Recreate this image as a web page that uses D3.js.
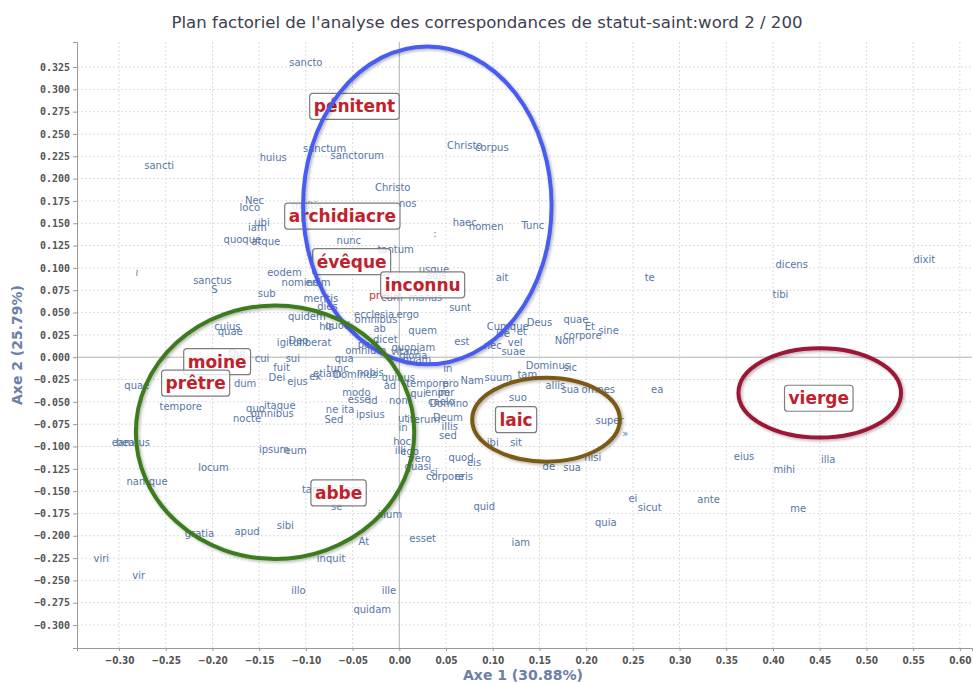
<!DOCTYPE html>
<html>
<head>
<meta charset="utf-8">
<script src="https://cdn.jsdelivr.net/npm/d3@7/dist/d3.min.js"></script>
<style>
  body { margin: 0; background: #fff; }
  text { font-family: "DejaVu Sans", sans-serif; }
</style>
</head>
<body>
<svg></svg>
<script>
var width = 974,
    height = 683;

// tick values of both axes
var xTickValues = [-0.30, -0.25, -0.20, -0.15, -0.10, -0.05, 0.00, 0.05, 0.10, 0.15,
                   0.20, 0.25, 0.30, 0.35, 0.40, 0.45, 0.50, 0.55, 0.60];
var yTickValues = [-0.300, -0.275, -0.250, -0.225, -0.200, -0.175, -0.150, -0.125, -0.100,
                   -0.075, -0.050, -0.025, 0.000, 0.025, 0.050, 0.075, 0.100, 0.125,
                   0.150, 0.175, 0.200, 0.225, 0.250, 0.275, 0.300, 0.325];

// row points (words): label, axe 1, axe 2
var rowPoints = [
  ["sancto", -0.100, 0.330], ["sancti", -0.257, 0.215], ["huius", -0.135, 0.224],
  ["sanctum", -0.080, 0.234], ["sanctorum", -0.045, 0.226], ["Christo", 0.070, 0.237],
  ["corpus", 0.099, 0.235], ["Christo", -0.007, 0.190], ["nos", 0.009, 0.172],
  ["Nec", -0.155, 0.176], ["loco", -0.160, 0.168], ["multis", -0.099, 0.170],
  ["ubi", -0.147, 0.151], ["iam", -0.152, 0.145], ["quoque", -0.168, 0.132],
  ["atque", -0.143, 0.130], ["nunc", -0.054, 0.131], ["haec", 0.070, 0.151],
  ["nomen", 0.093, 0.146], ["Tunc", 0.143, 0.148], ["tantum", -0.004, 0.121],
  [":", 0.038, 0.139], ["usque", 0.037, 0.098], ["suis", 0.040, 0.092],
  ["ait", 0.110, 0.089], ["te", 0.268, 0.089], ["dicens", 0.420, 0.104],
  ["dixit", 0.562, 0.109], ["tibi", 0.408, 0.070], ["≀", -0.281, 0.095],
  ["sanctus", -0.200, 0.086], ["S", -0.198, 0.076], ["eodem", -0.123, 0.095],
  ["nomine", -0.106, 0.084], ["enim", -0.087, 0.084], ["sub", -0.142, 0.071],
  ["meritis", -0.084, 0.066], ["dies", -0.077, 0.057], ["cum", -0.008, 0.067],
  ["manus", 0.028, 0.067], ["sunt", 0.065, 0.056], ["quidem", -0.099, 0.046],
  ["quod", -0.066, 0.036], ["his", -0.078, 0.034], ["ecclesia", -0.027, 0.048],
  ["ergo", 0.009, 0.048], ["omnibus", -0.025, 0.042], ["cuius", -0.184, 0.034],
  ["quae", -0.181, 0.029], ["ab", -0.021, 0.032], ["quem", 0.025, 0.030],
  ["est", 0.067, 0.018], ["Cumque", 0.116, 0.034], ["De", 0.111, 0.027],
  ["et", 0.131, 0.029], ["Deus", 0.150, 0.039], ["quae", 0.189, 0.042],
  ["Et", 0.204, 0.034], ["sine", 0.224, 0.030], ["corpore", 0.196, 0.024],
  ["Non", 0.177, 0.019], ["nec", 0.100, 0.013], ["vel", 0.124, 0.016],
  ["suae", 0.122, 0.006], ["igitur", -0.117, 0.017], ["Deo", -0.108, 0.019],
  ["liberat", -0.090, 0.016], ["dicet", -0.015, 0.020], ["post", -0.033, 0.014],
  ["quoniam", 0.015, 0.011], ["omnium", -0.036, 0.008], ["vitam", 0.006, 0.006],
  ["gloria", 0.015, 0.002], ["quam", 0.019, -0.003], ["qua", -0.059, -0.001],
  ["Qui", -0.174, 0.004], ["cui", -0.147, -0.001], ["sui", -0.114, -0.001],
  ["fuit", -0.126, -0.011], ["Dei", -0.131, -0.023], ["ejus", -0.109, -0.027],
  ["ex", -0.090, -0.022], ["etiam", -0.077, -0.018], ["tunc", -0.066, -0.013],
  ["Dominus", -0.047, -0.019], ["nobis", -0.031, -0.017], ["quibus", -0.001, -0.023],
  ["ad", -0.010, -0.032], ["tempore", 0.030, -0.029], ["pro", 0.055, -0.029],
  ["in", 0.052, -0.013], ["Nam", 0.078, -0.026], ["suum", 0.106, -0.023],
  ["tam", 0.137, -0.019], ["Dominus", 0.159, -0.009], ["sic", 0.183, -0.012],
  ["aliis", 0.167, -0.032], ["sua", 0.183, -0.036], ["omnes", 0.213, -0.036],
  ["ea", 0.276, -0.036], ["dum", -0.165, -0.030], ["quae", -0.281, -0.032],
  ["tempore", -0.234, -0.055], ["itaque", -0.128, -0.054], ["quo", -0.154, -0.058],
  ["omnibus", -0.136, -0.063], ["nocte", -0.163, -0.069], ["modo", -0.046, -0.040],
  ["esse", -0.043, -0.047], ["id", -0.028, -0.048], ["ita", -0.055, -0.059],
  ["ne", -0.072, -0.059], ["Sed", -0.070, -0.070], ["ipsius", -0.031, -0.064],
  ["non", -0.001, -0.049], ["qui", 0.020, -0.041], ["enim", 0.041, -0.040],
  ["per", 0.050, -0.039], ["Domino", 0.053, -0.052], ["caelo", 0.045, -0.050],
  ["ut", 0.004, -0.069], ["in", 0.004, -0.079], ["iterum", 0.026, -0.070],
  ["Deum", 0.052, -0.067], ["illis", 0.054, -0.078], ["sed", 0.052, -0.088],
  ["suo", 0.127, -0.045], ["super", 0.225, -0.071], ["»", 0.242, -0.086],
  ["ibi", 0.100, -0.096], ["sit", 0.125, -0.095], ["hoc", 0.003, -0.094],
  ["illi", 0.001, -0.105], ["ego", 0.011, -0.106], ["vero", 0.022, -0.114],
  ["quasi", 0.020, -0.122], ["quod", 0.066, -0.112], ["eis", 0.080, -0.118],
  ["si", 0.037, -0.129], ["corpore", 0.049, -0.134], ["eris", 0.069, -0.134],
  ["de", 0.160, -0.122], ["sua", 0.185, -0.124], ["nisi", 0.207, -0.112],
  ["eius", 0.369, -0.111], ["mihi", 0.412, -0.126], ["illa", 0.459, -0.115],
  ["ei", 0.250, -0.158], ["sicut", 0.268, -0.168], ["ante", 0.331, -0.159],
  ["me", 0.427, -0.169], ["quia", 0.221, -0.185], ["quid", 0.091, -0.167],
  ["esset", 0.025, -0.203], ["iam", 0.130, -0.208], ["beatus", -0.285, -0.095],
  ["eam", -0.296, -0.095], ["locum", -0.199, -0.124], ["ipsum", -0.134, -0.103],
  ["eum", -0.111, -0.104], ["namque", -0.270, -0.139], ["tamen", -0.087, -0.148],
  ["ipse", -0.051, -0.148], ["se", -0.067, -0.167], ["illum", -0.010, -0.176],
  ["gratia", -0.214, -0.198], ["apud", -0.163, -0.195], ["sibi", -0.122, -0.188],
  ["At", -0.038, -0.206], ["inquit", -0.073, -0.226], ["viri", -0.319, -0.225],
  ["vir", -0.279, -0.244], ["illo", -0.108, -0.261], ["ille", -0.011, -0.261],
  ["quidam", -0.029, -0.283]
];

// column points (statut) shown with a box
var colPoints = [
  ["pénitent", -0.048, 0.281], ["archidiacre", -0.061, 0.158], ["évêque", -0.051, 0.107],
  ["inconnu", 0.025, 0.081], ["moine", -0.195, -0.005], ["prêtre", -0.218, -0.029],
  ["laic", 0.125, -0.070], ["abbe", -0.065, -0.152], ["vierge", 0.449, -0.046]
];
// column point without box (mostly hidden)
var hiddenCols = [["prieur", -0.015, 0.069]];

// hand drawn ellipses: centre x, centre y, radius x, radius y (data units), colour
var ellipses = [
  [0.030, 0.170, 0.133, 0.178, "#4a5cf0"],
  [-0.133, -0.084, 0.149, 0.142, "#3e7b1c"],
  [0.157, -0.070, 0.079, 0.047, "#7b5a16"],
  [0.450, -0.040, 0.087, 0.050, "#9c1535"]
];

var svg = d3.select("svg")
    .attr("width", width)
    .attr("height", height);

var x = d3.scaleLinear().domain([-0.345, 0.613]).range([77, 972]);
var y = d3.scaleLinear().domain([-0.3257, 0.353]).range([648, 42]);

var defs = svg.append("defs");
var shadow = defs.append("filter").attr("id", "shadow")
    .attr("x", "-10%").attr("y", "-10%").attr("width", "120%").attr("height", "120%");
shadow.append("feDropShadow")
    .attr("dx", 1.5).attr("dy", 1.5).attr("stdDeviation", 1.5)
    .attr("flood-color", "#000").attr("flood-opacity", 0.3);

//grid
var grid = svg.append("g");
grid.selectAll(".vg")
    .data(xTickValues)
  .enter().append("line")
    .attr("x1", function(d){ return x(d); })
    .attr("x2", function(d){ return x(d); })
    .attr("y1", y.range()[1]).attr("y2", y.range()[0])
    .attr("stroke", function(d){ return d == 0 ? "#b0b0b0" : "#dcdcdc"; })
    .attr("stroke-dasharray", function(d){ return d == 0 ? null : "2,2"; });
grid.selectAll(".hg")
    .data(yTickValues)
  .enter().append("line")
    .attr("y1", function(d){ return y(d); })
    .attr("y2", function(d){ return y(d); })
    .attr("x1", x.range()[0]).attr("x2", x.range()[1])
    .attr("stroke", function(d){ return d == 0 ? "#b0b0b0" : "#dcdcdc"; })
    .attr("stroke-dasharray", function(d){ return d == 0 ? null : "2,2"; });

//axes
var xAxis = svg.append("g")
    .attr("transform", "translate(0,648)")
    .call(d3.axisBottom(x).tickValues(xTickValues).tickSize(3)
      .tickFormat(d3.format(".2f")));
var yAxis = svg.append("g")
    .attr("transform", "translate(77,0)")
    .call(d3.axisLeft(y).tickValues(yTickValues).tickSize(4)
      .tickFormat(d3.format(".3f")));

[xAxis, yAxis].forEach(function(a){
  a.select(".domain").attr("stroke", "#999");
  a.selectAll(".tick line").attr("stroke", "#999");
  a.selectAll(".tick text")
    .attr("fill", "#555")
    .style("font-size", "10px")
    .style("font-weight", "bold");
});
xAxis.selectAll(".tick text").attr("dy", "1.0em")
    .style("font-family", "'DejaVu Sans Condensed','DejaVu Sans',sans-serif")
    .style("font-stretch", "condensed");
yAxis.selectAll(".tick text")
    .style("font-family", "'DejaVu Sans Mono',monospace")
    .style("font-size", "10px");

//axis titles
svg.append("text")
    .attr("x", 523).attr("y", 680)
    .attr("text-anchor", "middle")
    .attr("fill", "#6b80a6")
    .style("font-size", "14px").style("font-weight", "bold")
    .text("Axe 1 (30.88%)");
svg.append("text")
    .attr("transform", "translate(22,345) rotate(-90)")
    .attr("text-anchor", "middle")
    .attr("fill", "#6b80a6")
    .style("font-size", "14px").style("font-weight", "bold")
    .text("Axe 2 (25.79%)");

//title
svg.append("text")
    .attr("x", 487).attr("y", 28)
    .attr("text-anchor", "middle")
    .attr("fill", "#3d4050")
    .attr("textLength", 631)
    .attr("lengthAdjust", "spacingAndGlyphs")
    .style("font-size", "15px")
    .text("Plan factoriel de l'analyse des correspondances de statut-saint:word 2 / 200");

//row labels
svg.append("g").selectAll("text")
    .data(rowPoints)
  .enter().append("text")
    .attr("x", function(d){ return x(d[1]); })
    .attr("y", function(d){ return y(d[2]); })
    .attr("dy", "0.35em")
    .attr("text-anchor", "middle")
    .attr("fill", "#5676a6")
    .style("font-size", "10px")
    .text(function(d){ return d[0]; });

svg.append("g").selectAll("text")
    .data(hiddenCols)
  .enter().append("text")
    .attr("x", function(d){ return x(d[1]); })
    .attr("y", function(d){ return y(d[2]); })
    .attr("dy", "0.35em")
    .attr("text-anchor", "middle")
    .attr("fill", "#c83a3a")
    .style("font-size", "11px")
    .text(function(d){ return d[0]; });

//column labels with box
var col = svg.append("g").selectAll("g")
    .data(colPoints)
  .enter().append("g")
    .attr("transform", function(d){ return "translate(" + x(d[1]) + "," + y(d[2]) + ")"; });
var colText = col.append("text")
    .attr("dy", "0.36em")
    .attr("text-anchor", "middle")
    .attr("fill", "#c0222c")
    .style("font-size", "17px")
    .style("font-weight", "bold")
    .text(function(d){ return d[0]; });
col.each(function(){
  var g = d3.select(this);
  var bb = g.select("text").node().getBBox();
  g.insert("rect", "text")
    .attr("x", bb.x - 4).attr("y", -13)
    .attr("width", bb.width + 8).attr("height", 26)
    .attr("rx", 3)
    .attr("fill", "#fff").attr("fill-opacity", 0.8)
    .attr("stroke", "#7d7d7d").attr("stroke-width", 1.2);
});

//ellipses
svg.append("g").selectAll("ellipse")
    .data(ellipses)
  .enter().append("ellipse")
    .attr("cx", function(d){ return x(d[0]); })
    .attr("cy", function(d){ return y(d[1]); })
    .attr("rx", function(d){ return x(d[2]) - x(0); })
    .attr("ry", function(d){ return y(0) - y(d[3]); })
    .attr("fill", "none")
    .attr("stroke", function(d){ return d[4]; })
    .attr("stroke-width", 4)
    .attr("filter", "url(#shadow)");
</script>
</body>
</html>
